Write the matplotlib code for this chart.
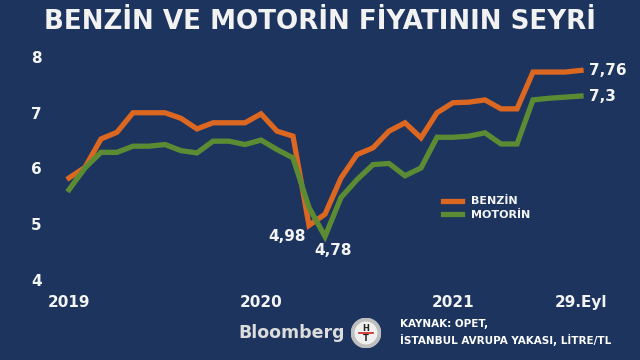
import matplotlib
matplotlib.use('Agg')
from matplotlib import pyplot as plt
from matplotlib.patches import Circle

# monthly prices, Jan 2019 .. Sep 2021 (TL / litre)
benzin = [5.83, 6.02, 6.53, 6.65, 7.00, 7.00, 7.00, 6.90, 6.71, 6.82, 6.82, 6.82,
          6.98, 6.67, 6.58, 4.98, 5.18, 5.83, 6.25, 6.37, 6.67, 6.82, 6.55, 7.00,
          7.18, 7.19, 7.23, 7.07, 7.07, 7.73, 7.73, 7.73, 7.76]
motorin = [5.62, 6.01, 6.29, 6.29, 6.40, 6.40, 6.43, 6.32, 6.28, 6.49, 6.49, 6.43,
           6.51, 6.34, 6.19, 5.30, 4.78, 5.48, 5.80, 6.07, 6.09, 5.87, 6.01, 6.56,
           6.56, 6.58, 6.64, 6.44, 6.44, 7.23, 7.26, 7.28, 7.30]
xtick_pos = [0, 12, 24, 32]
xtick_labels = ['2019', '2020', '2021', '29.Eyl']
yticks = [4, 5, 6, 7, 8]

BG = '#1c345e'
ORANGE = '#dc6720'
GREEN = '#5b8c34'

fig = plt.figure(figsize=(6.4, 3.6), dpi=100, facecolor=BG)
ax = fig.add_axes([53 / 640, 1 - 280 / 360, (619 - 53) / 640, (280 - 57) / 360])
ax.set_facecolor(BG)

x = list(range(len(benzin)))
ax.plot(x, benzin, color=ORANGE, lw=3.8, label='BENZİN', solid_joinstyle='miter', clip_on=False)
ax.plot(x, motorin, color=GREEN, lw=3.8, label='MOTORİN', solid_joinstyle='miter', clip_on=False)

ax.set_xlim(-1, 34.375)
ax.set_ylim(4, 8)
ax.set_xticks(xtick_pos)
ax.set_xticklabels(xtick_labels)
ax.set_yticks(yticks)
for s in ax.spines.values():
    s.set_visible(False)
ax.tick_params(length=0, colors='#f4f4f4', labelsize=11)
ax.tick_params(axis='x', pad=11)
ax.tick_params(axis='y', pad=8)
for lab in ax.get_xticklabels() + ax.get_yticklabels():
    lab.set_fontweight('bold')

# value labels
lab_kw = dict(color='#f4f4f4', fontsize=11, fontweight='bold', va='center')
ax.annotate('4,98', (15, 4.98), xytext=(-22, -11), textcoords='offset pixels', ha='center', **lab_kw)
ax.annotate('4,78', (16, 4.78), xytext=(8, -14), textcoords='offset pixels', ha='center', **lab_kw)
ax.annotate('7,76', (32, 7.76), xytext=(8, 0), textcoords='offset pixels', ha='left', **lab_kw)
ax.annotate('7,3', (32, 7.30), xytext=(8, 0), textcoords='offset pixels', ha='left', **lab_kw)

leg = ax.legend(loc='upper left', bbox_to_anchor=(380 / 566, 0.42), frameon=False,
                handlelength=1.7, handletextpad=0.8, labelspacing=0.35,
                prop={'weight': 'bold', 'size': 8})
for t in leg.get_texts():
    t.set_color('#f4f4f4')

fig.text(0.5, 1 - 22 / 360, 'BENZİN VE MOTORİN FİYATININ SEYRİ', ha='center', va='center',
         color='#f2f2f2', fontsize=18.8, fontweight='bold')

# footer
fig.text(345 / 640, 1 - 333 / 360, 'Bloomberg', ha='right', va='center',
         color='#dcdcdc', fontsize=12.5, fontweight='semibold')
cx, cy = 366 / 640, 1 - 333 / 360
logo = fig.add_axes([cx - 15 / 640, cy - 15 / 360, 30 / 640, 30 / 360])
logo.set_xlim(-1, 1)
logo.set_ylim(-1, 1)
logo.axis('off')
logo.add_patch(Circle((0, 0), 0.98, color='#bfbfbf'))
logo.add_patch(Circle((0, 0), 0.72, color='#f0f0f0'))
logo.text(0, 0.3, 'H', ha='center', va='center', fontsize=6, fontweight='bold', color='#222222')
logo.text(0, -0.35, 'T', ha='center', va='center', fontsize=6, fontweight='bold', color='#222222')
logo.plot([-0.45, 0.45], [0, 0], color='#cc2222', lw=1.2)

fig.text(400 / 640, 1 - 324 / 360, 'KAYNAK: OPET,', ha='left', va='center',
         color='white', fontsize=7.5, fontweight='bold')
fig.text(400 / 640, 1 - 340 / 360, 'İSTANBUL AVRUPA YAKASI, LİTRE/TL', ha='left', va='center',
         color='white', fontsize=7.5, fontweight='bold')

fig.savefig('out.png', dpi=100, facecolor=BG)
